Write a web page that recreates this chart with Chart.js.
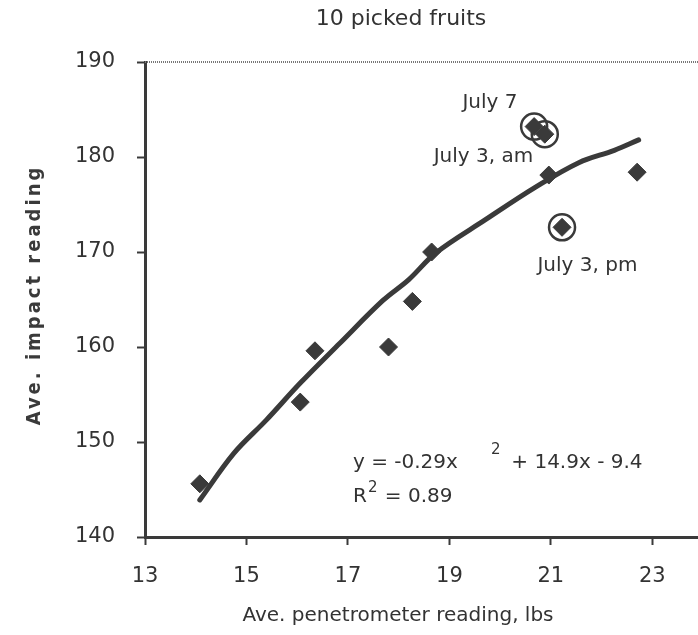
<!DOCTYPE html>
<html>
<head>
<meta charset="utf-8">
<script src="https://cdn.jsdelivr.net/npm/chart.js@4.4.1/dist/chart.umd.min.js"></script>
<style>
  html, body { margin: 0; padding: 0; background: #fff; overflow: hidden; }
  #wrap { width: 698px; height: 635px; position: relative; }
  canvas { display: block; }
</style>
</head>
<body>
<div id="wrap"><canvas id="impactChart"></canvas></div>
<script>
// measured fruit samples
const penetrometer = [14.08, 16.06, 16.35, 17.8, 18.27, 18.65, 20.67, 20.88, 20.96, 21.22, 22.7];
const impact = [145.6, 154.2, 159.6, 160.0, 164.8, 170.0, 183.2, 182.4, 178.1, 172.6, 178.4];

// highlighted picking dates (index into the arrays above)
const highlightIdx = [6, 7, 9];
const highlightNames = ['July 7', 'July 3, am', 'July 3, pm'];

// fitted curve
const fitX = [14.08, 14.75, 15.39, 16.06, 16.84, 17.69, 18.2, 18.73, 19.71, 20.69, 21.55, 22.25, 22.73];
const fitY = [143.9, 148.8, 152.3, 156.2, 160.4, 164.9, 167.1, 169.9, 173.4, 176.8, 179.4, 180.7, 181.8];

const xTicks = [13, 15, 17, 19, 21, 23];
const yTicks = [140, 150, 160, 170, 180, 190];

const ink = '#3a3a3a';
const textColor = '#333';
const fam = '"DejaVu Sans", sans-serif';

let points = penetrometer.map((x, i) => ({x: x, y: impact[i]}));
let circled = highlightIdx.map(i => points[i]);
let fitLine = fitX.map((x, i) => ({x: x, y: fitY[i]}));

// label anchors in data units
const notes = [
    {text: highlightNames[0], x: 19.8, y: 185.7},
    {text: highlightNames[1], x: 19.67, y: 180.0},
    {text: highlightNames[2], x: 21.72, y: 168.6}
];

const annotate = {
    id: 'annotate',
    afterDraw(chart) {
        const ctx = chart.ctx;
        const xs = chart.scales.x, ys = chart.scales.y;
        const area = chart.chartArea;
        ctx.save();

        // dotted top frame
        ctx.strokeStyle = '#777';
        ctx.lineWidth = 2;
        ctx.setLineDash([1, 1]);
        ctx.beginPath();
        ctx.moveTo(area.left, area.top);
        ctx.lineTo(area.right, area.top);
        ctx.stroke();
        ctx.setLineDash([]);

        ctx.fillStyle = textColor;
        ctx.textBaseline = 'middle';

        // title
        ctx.font = '22px ' + fam;
        ctx.textAlign = 'center';
        ctx.fillText('10 picked fruits', 401, 19);

        // x axis title
        ctx.font = '20px ' + fam;
        ctx.fillText('Ave. penetrometer reading, lbs', 398, 616);

        // y axis title, spaced out like the original
        ctx.save();
        ctx.translate(35, 295);
        ctx.rotate(-Math.PI / 2);
        ctx.font = 'bold 20px "DejaVu Sans Condensed", "DejaVu Sans", sans-serif';
        ctx.letterSpacing = '3px';
        ctx.fillStyle = '#3a3a3a';
        ctx.fillText('Ave. impact reading', 0, 0);
        ctx.restore();

        ctx.font = '20px ' + fam;
        ctx.textAlign = 'center';
        notes.forEach(n => {
            ctx.fillText(n.text, xs.getPixelForValue(n.x), ys.getPixelForValue(n.y));
        });

        // regression equation
        ctx.font = '20px ' + fam;
        ctx.textAlign = 'left';
        let ex = xs.getPixelForValue(17.1), ey = ys.getPixelForValue(147.8);
        ctx.fillText('y = -0.29x', ex, ey);
        ctx.fillText('+ 14.9x - 9.4', xs.getPixelForValue(20.22), ey);
        ctx.font = '15px ' + fam;
        ctx.fillText('2', xs.getPixelForValue(19.82), ey - 13);

        ctx.font = '20px ' + fam;
        let ry = ys.getPixelForValue(144.2);
        ctx.fillText('R', ex, ry);
        let rw = ctx.measureText('R').width;
        ctx.font = '15px ' + fam;
        ctx.fillText('2', ex + rw + 1, ry - 9);
        let sw = ctx.measureText('2').width;
        ctx.font = '20px ' + fam;
        ctx.fillText(' = 0.89', ex + rw + sw + 2, ry);

        ctx.restore();
    }
};

new Chart(document.getElementById('impactChart'), {
    type: 'scatter',
    plugins: [annotate],
    data: {
        datasets: [
            {
                type: 'line',
                data: fitLine,
                borderColor: ink,
                borderWidth: 5,
                pointRadius: 0,
                tension: 0.35,
                fill: false,
                borderCapStyle: 'round'
            },
            {
                data: points,
                pointStyle: 'rectRot',
                pointRadius: 9,
                backgroundColor: ink,
                borderColor: ink,
                borderWidth: 1
            },
            {
                data: circled,
                pointStyle: 'circle',
                pointRadius: 13,
                backgroundColor: 'rgba(0,0,0,0)',
                borderColor: ink,
                borderWidth: 2.5
            }
        ]
    },
    options: {
        responsive: true,
        maintainAspectRatio: false,
        animation: false,
        layout: { autoPadding: false, padding: { top: 62, right: 0, left: 0, bottom: 0 } },
        plugins: {
            legend: { display: false },
            tooltip: { enabled: false }
        },
        scales: {
            x: {
                type: 'linear',
                min: 13,
                max: 23.9,
                afterBuildTicks: s => { s.ticks = xTicks.map(v => ({value: v})); },
                afterFit: s => { s.height = 98; s.paddingRight = 0; s.paddingLeft = 0; },
                border: { color: ink, width: 3 },
                grid: { drawOnChartArea: false, tickLength: 8, tickColor: ink, tickWidth: 2 },
                ticks: { color: textColor, padding: 19, font: { size: 21, family: fam } }
            },
            y: {
                min: 140,
                max: 190,
                afterBuildTicks: s => { s.ticks = yTicks.map(v => ({value: v})); },
                afterFit: s => { s.width = 145; s.paddingTop = 0; s.paddingBottom = 0; },
                border: { color: ink, width: 3 },
                grid: { drawOnChartArea: false, tickLength: 8, tickColor: ink, tickWidth: 2 },
                ticks: { color: textColor, padding: 22, font: { size: 21, family: fam } }
            }
        }
    }
});
</script>
</body>
</html>
